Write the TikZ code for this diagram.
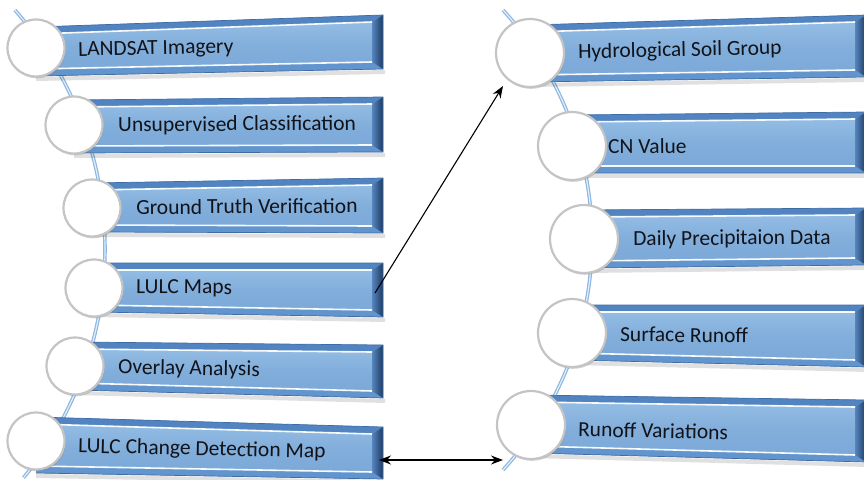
\documentclass[tikz,border=0pt]{standalone}
\usepackage{fontspec}
\setmainfont{Carlito}
\usetikzlibrary{arrows.meta,shadows}
\definecolor{faceA}{HTML}{98C1E6}
\definecolor{faceB}{HTML}{82AEDB}
\definecolor{faceC}{HTML}{7AA7D8}
\definecolor{bandT}{HTML}{5284C2}
\definecolor{bandB}{HTML}{6294CE}
\definecolor{edgeC}{HTML}{3E6CA4}
\definecolor{bevA}{HTML}{5585BE}
\definecolor{bevB}{HTML}{1E3A62}
\definecolor{spineC}{HTML}{8DB6E0}
\definecolor{spineIn}{HTML}{E2EEF9}
\definecolor{txtC}{HTML}{121319}
\definecolor{rimC}{HTML}{C4C4C4}
\newcommand\DrawBar[6]{%
  \fill[black,opacity=0.12] (#1,#5+1) -- (#2+2,#6+1) -- (#2+2,#6+5) -- (#1,#5+5) -- cycle;
  \shade[top color=faceA, bottom color=faceC, middle color=faceB] (#1,#3) -- (#2,#4) -- (#2,#6) -- (#1,#5) -- cycle;
  \fill[bandT] (#1,#3) -- (#2,#4) -- (#2-11,#4+7) -- (#1,#3+7) -- cycle;
  \fill[bandB] (#1,#5) -- (#2,#6) -- (#2-11,#6-7) -- (#1,#5-7) -- cycle;
  \shade[left color=bevA, right color=bevB] (#2-11,#4+7) -- (#2,#4) -- (#2,#6) -- (#2-11,#6-7) -- cycle;
  \draw[white, line width=1.6pt, opacity=.95] (#1,#3+7) -- (#2-11,#4+7);
  \draw[white, line width=1.6pt, opacity=.95] (#1,#5-7) -- (#2-11,#6-7);
  \draw[edgeC, line width=.7pt] (#1,#3) -- (#2,#4) -- (#2,#6) -- (#1,#5);
}
\tikzset{
  circL/.style={circle, minimum size=57pt, inner sep=0pt, fill=white, draw=rimC, line width=2.2pt,
    drop shadow={shadow xshift=1pt, shadow yshift=-1.8pt, opacity=0.35}},
  circR/.style={circL, minimum size=68pt},
  lbl/.style={anchor=west, text=txtC, font=\fontsize{21.5}{24}\selectfont, inner sep=0pt},
  spine/.style={spineC, line width=3.6pt},
  spinein/.style={spineIn, line width=1.2pt},
  arr/.style={black, line width=1.1pt, -{Stealth[length=12pt,width=9pt]}},
  darr/.style={black, line width=1.1pt, {Stealth[length=12pt,width=9pt]}-{Stealth[length=12pt,width=9pt]}}
}
\begin{document}
\begin{tikzpicture}[x=1pt,y={(0pt,-1pt)}]
\useasboundingbox (0,0) rectangle (864,479);
% spines
\draw[spine] plot[domain=-41.3:39.2, samples=80] ({-257+362*cos(\x)},{249+362*sin(\x)});
\draw[spinein] plot[domain=-41.3:39.2, samples=80] ({-257+362*cos(\x)},{249+362*sin(\x)});
\draw[spine] plot[domain=-42.3:42.3, samples=80] ({250.3+341.7*cos(\x)},{240+341.7*sin(\x)});
\draw[spinein] plot[domain=-42.3:42.3, samples=80] ({250.3+341.7*cos(\x)},{240+341.7*sin(\x)});
% left bars
\DrawBar{36}{383}{27}{15}{76}{69}
\DrawBar{74}{383}{100}{97}{153}{152}
\DrawBar{92}{383}{183}{178}{232}{233}
\DrawBar{94}{383}{263}{263}{312}{317}
\DrawBar{75}{383}{342}{345}{390}{398}
\DrawBar{36}{383}{417}{427}{473}{479}
% right bars
\DrawBar{530}{866}{25}{15}{82}{77}
\DrawBar{572}{866}{115}{112}{173}{173}
\DrawBar{584}{866}{210}{208}{268}{265}
\DrawBar{572}{866}{305}{305}{360}{367}
\DrawBar{531}{866}{395}{400}{453}{462}
% circles
\node[circL] (L1) at (36,48) {};
\node[circL] (L2) at (74,125) {};
\node[circL] (L3) at (92,208) {};
\node[circL] (L4) at (94,288) {};
\node[circL] (L5) at (75,366) {};
\node[circL] (L6) at (36,441) {};
\node[circR] (R1) at (530,53) {};
\node[circR] (R2) at (572,146) {};
\node[circR] (R3) at (584,239) {};
\node[circR] (R4) at (572,333) {};
\node[circR] (R5) at (531,425) {};
% labels
\node[lbl, rotate=1.2] (t1) at (78,51) {LANDSAT Imagery};
\node[lbl, rotate=0.4] (t2) at (118,126) {Unsupervised Classification};
\node[lbl, rotate=0.4] (t3) at (136,207) {Ground Truth Verification};
\node[lbl, rotate=-0.5] (t4) at (136,288) {LULC Maps};
\node[lbl, rotate=-1] (t5) at (118,368) {Overlay Analysis};
\node[lbl, rotate=-1.3] (t6) at (78,447) {LULC Change Detection Map};
\node[lbl, rotate=1.2] (r1) at (578,53) {Hydrological Soil Group};
\node[lbl, rotate=0.3] (r2) at (608,146) {CN Value};
\node[lbl, rotate=0.5] (r3) at (633,240) {Daily Precipitaion Data};
\node[lbl, rotate=-0.7] (r4) at (620,334) {Surface Runoff};
\node[lbl, rotate=-1.2] (r5) at (578,429) {Runoff Variations};
% connectors
\coordinate (a1s) at (375,293);
\coordinate (a1e) at (503,86);
\draw[arr] (a1s) -- (a1e);
\coordinate (a2s) at (379,460);
\coordinate (a2e) at (503,460);
\draw[darr] (a2s) -- (a2e);
\end{tikzpicture}
\end{document}
